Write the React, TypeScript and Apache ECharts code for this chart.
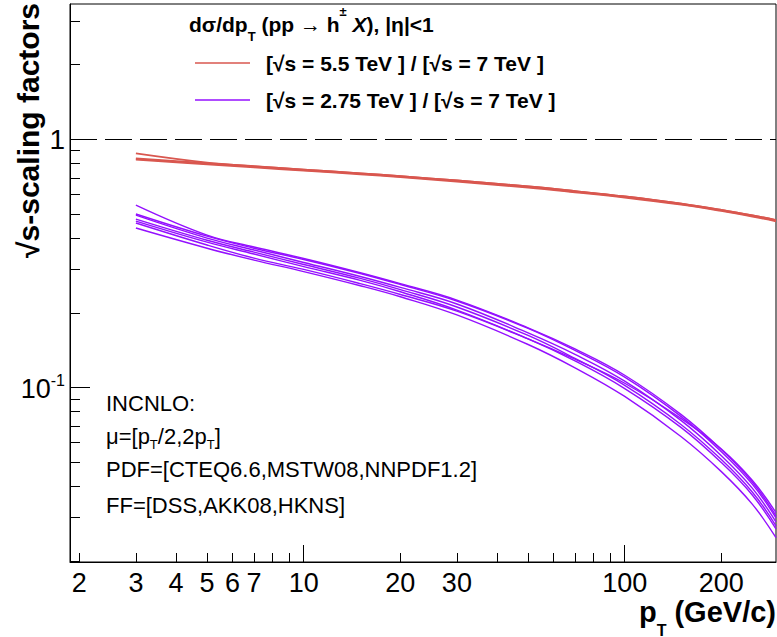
import React, { useEffect, useRef } from 'react';
import * as echarts from 'echarts';

const FONT = '"Liberation Sans", Arial, Helvetica, sans-serif';

// transverse momentum grid (GeV/c)
const pT = [3, 5, 7, 10, 15, 20, 30, 50, 70, 100, 150, 200, 250, 296];

// [sqrt(s)=5.5 TeV]/[sqrt(s)=7 TeV] ratios
const red1 = [0.878, 0.806, 0.780, 0.756, 0.730, 0.711, 0.683, 0.646, 0.619, 0.589, 0.551, 0.520, 0.494, 0.473];
const red2 = [0.838, 0.802, 0.779, 0.756, 0.730, 0.711, 0.683, 0.646, 0.619, 0.589, 0.551, 0.520, 0.494, 0.473];
const red3 = [0.833, 0.797, 0.775, 0.751, 0.726, 0.707, 0.679, 0.642, 0.615, 0.586, 0.548, 0.517, 0.491, 0.470];
const red4 = [0.828, 0.792, 0.770, 0.747, 0.722, 0.703, 0.675, 0.638, 0.611, 0.582, 0.545, 0.514, 0.488, 0.467];

// [sqrt(s)=2.75 TeV]/[sqrt(s)=7 TeV] ratios
const vio1 = [0.543, 0.411, 0.368, 0.331, 0.290, 0.262, 0.225, 0.174, 0.143, 0.112, 0.0777, 0.0562, 0.0415, 0.0304];
const vio2 = [0.500, 0.407, 0.364, 0.328, 0.288, 0.260, 0.223, 0.173, 0.141, 0.110, 0.0763, 0.0551, 0.0407, 0.0298];
const vio3 = [0.495, 0.400, 0.358, 0.319, 0.280, 0.253, 0.217, 0.166, 0.136, 0.106, 0.0735, 0.0531, 0.0392, 0.0287];
const vio4 = [0.477, 0.392, 0.351, 0.313, 0.275, 0.248, 0.211, 0.162, 0.131, 0.102, 0.0708, 0.0512, 0.0378, 0.0277];
const vio5 = [0.468, 0.385, 0.345, 0.307, 0.270, 0.243, 0.205, 0.157, 0.128, 0.099, 0.0689, 0.0498, 0.0368, 0.0269];
const vio6 = [0.460, 0.375, 0.332, 0.299, 0.262, 0.237, 0.203, 0.157, 0.130, 0.104, 0.0749, 0.0565, 0.0422, 0.0313];
const vio7 = [0.439, 0.364, 0.326, 0.293, 0.257, 0.232, 0.196, 0.149, 0.120, 0.092, 0.0633, 0.0458, 0.0338, 0.0248];

const xMajorTicks = [10, 100];
const xMinorTicks = [2, 3, 4, 5, 6, 7, 8, 9, 20, 30, 40, 50, 60, 70, 80, 90, 200];
const xTickLabels = [2, 3, 4, 5, 6, 7, 10, 20, 30, 100, 200];
const yMajorTicks = [0.1, 1];
const yMinorTicks = [0.02, 0.03, 0.04, 0.05, 0.06, 0.07, 0.08, 0.09, 0.2, 0.3, 0.4, 0.5, 0.6, 0.7, 0.8, 0.9, 2, 3];
const yTickLabels = [0.1, 1];

const RED = '#d9574f';
const VIOLET = '#9410ff';

const X_MIN = 1.87;
const X_MAX = 296;
const Y_MIN = 0.0198;
const Y_MAX = 3.51;

export default function App() {
  const ref = useRef<HTMLDivElement>(null);

  useEffect(() => {
    if (!ref.current) return;
    const chart = echarts.init(ref.current, undefined, { renderer: 'svg' });

    const mk = (vals: number[], color: string, width: number) => ({
      type: 'line',
      xAxisIndex: 0,
      yAxisIndex: 0,
      data: pT.map((p, i) => [p, vals[i]]),
      symbol: 'none',
      showSymbol: false,
      smooth: 0.4,
      silent: true,
      lineStyle: { color, width },
      z: 3,
    });

    const xBase = {
      type: 'log',
      logBase: 10,
      min: X_MIN,
      max: X_MAX,
      position: 'bottom',
      splitLine: { show: false },
      minorTick: { show: false },
      minorSplitLine: { show: false },
    };
    const yBase = {
      type: 'log',
      logBase: 10,
      min: Y_MIN,
      max: Y_MAX,
      position: 'left',
      splitLine: { show: false },
      minorTick: { show: false },
      minorSplitLine: { show: false },
    };

    const option: any = {
      animation: false,
      backgroundColor: '#fff',
      grid: {
        left: 70,
        right: 1,
        top: 4,
        bottom: 75,
        containLabel: false,
        outerBoundsMode: 'none',
        show: true,
        borderColor: '#000',
        borderWidth: 1,
      },
      xAxis: [
        {
          ...xBase,
          axisLine: { show: true, onZero: false, lineStyle: { color: '#000', width: 1 } },
          axisTick: { show: true, inside: true, length: 17, customValues: xMajorTicks, lineStyle: { color: '#000' } },
          axisLabel: {
            show: true,
            customValues: xTickLabels,
            margin: 7,
            fontSize: 27,
            fontFamily: FONT,
            color: '#000',
            formatter: (v: number) => String(Math.round(v)),
          },
        },
        {
          ...xBase,
          axisLine: { show: false, onZero: false },
          axisTick: { show: true, inside: true, length: 9, customValues: xMinorTicks, lineStyle: { color: '#000' } },
          axisLabel: { show: false },
        },
      ],
      yAxis: [
        {
          ...yBase,
          axisLine: { show: true, onZero: false, lineStyle: { color: '#000', width: 1 } },
          axisTick: { show: true, inside: true, length: 20, customValues: yMajorTicks, lineStyle: { color: '#000' } },
          axisLabel: {
            show: true,
            customValues: yTickLabels,
            margin: 5,
            fontSize: 28,
            fontFamily: FONT,
            color: '#000',
            formatter: (v: number) => (v > 0.5 ? '1' : '{b|10}{s|-1}'),
            rich: {
              b: { fontSize: 27, fontFamily: FONT, color: '#000', lineHeight: 28, padding: [10, 0, 0, 0], verticalAlign: 'bottom' },
              s: { fontSize: 16, fontFamily: FONT, color: '#000', lineHeight: 30, verticalAlign: 'top' },
            },
          },
        },
        {
          ...yBase,
          axisLine: { show: false, onZero: false },
          axisTick: { show: true, inside: true, length: 10, customValues: yMinorTicks, lineStyle: { color: '#000' } },
          axisLabel: { show: false },
        },
      ],
      series: [
        {
          type: 'line',
          xAxisIndex: 0,
          yAxisIndex: 0,
          data: [],
          silent: true,
          markLine: {
            silent: true,
            symbol: ['none', 'none'],
            label: { show: false },
            lineStyle: { color: '#000', width: 1, type: [27, 8] },
            data: [{ yAxis: 1 }],
          },
        },
        mk(red1, RED, 1.6),
        mk(red2, RED, 1.6),
        mk(red3, RED, 1.6),
        mk(red4, RED, 1.6),
        mk(vio1, VIOLET, 1.4),
        mk(vio2, VIOLET, 1.4),
        mk(vio3, VIOLET, 1.4),
        mk(vio4, VIOLET, 1.4),
        mk(vio5, VIOLET, 1.4),
        mk(vio6, VIOLET, 1.4),
        mk(vio7, VIOLET, 1.4),
      ],
      graphic: [
        {
          type: 'text',
          x: 28,
          y: 3,
          rotation: Math.PI / 2,
          style: {
            text: '√s-scaling factors',
            fill: '#000',
            fontSize: 30,
            fontWeight: 'bold',
            fontFamily: FONT,
            align: 'right',
            verticalAlign: 'middle',
          },
        },
        {
          type: 'text',
          x: 189,
          y: 24,
          style: {
            text: '{a|dσ/dp}{sub|T}{a| (pp → h}{sup|±}{i| X}{a|), |η|<1}',
            fill: '#000',
            fontSize: 21,
            fontWeight: 'bold',
            fontFamily: FONT,
            align: 'left',
            verticalAlign: 'middle',
            rich: {
              a: { fontSize: 21, fontWeight: 'bold', fontFamily: FONT, fill: '#000', lineHeight: 38 },
              i: { fontSize: 21, fontWeight: 'bold', fontStyle: 'italic', fontFamily: FONT, fill: '#000', lineHeight: 38 },
              sub: { fontSize: 13, fontWeight: 'bold', fontFamily: FONT, fill: '#000', lineHeight: 12, verticalAlign: 'bottom' },
              sup: { fontSize: 13, fontWeight: 'bold', fontFamily: FONT, fill: '#000', lineHeight: 16, verticalAlign: 'top' },
            },
          },
        },
        { type: 'line', shape: { x1: 195, y1: 63, x2: 250, y2: 63 }, style: { stroke: RED, lineWidth: 1.5 } },
        {
          type: 'text',
          x: 266,
          y: 63,
          style: {
            text: '[√s = 5.5 TeV ] / [√s = 7 TeV ]',
            fill: '#000',
            fontSize: 21,
            fontWeight: 'bold',
            fontFamily: FONT,
            align: 'left',
            verticalAlign: 'middle',
          },
        },
        { type: 'line', shape: { x1: 195, y1: 100, x2: 250, y2: 100 }, style: { stroke: VIOLET, lineWidth: 1.5 } },
        {
          type: 'text',
          x: 266,
          y: 100,
          style: {
            text: '[√s = 2.75 TeV ] / [√s = 7 TeV ]',
            fill: '#000',
            fontSize: 21,
            fontWeight: 'bold',
            fontFamily: FONT,
            align: 'left',
            verticalAlign: 'middle',
          },
        },
        {
          type: 'text',
          x: 106,
          y: 403,
          style: { text: 'INCNLO:', fill: '#000', fontSize: 22, fontFamily: FONT, align: 'left', verticalAlign: 'middle' },
        },
        {
          type: 'text',
          x: 106,
          y: 436,
          style: {
            text: '{a|μ=[p}{s|T}{a|/2,2p}{s|T}{a|]}',
            fill: '#000',
            fontSize: 22,
            fontFamily: FONT,
            align: 'left',
            verticalAlign: 'middle',
            rich: {
              a: { fontSize: 22, fontFamily: FONT, fill: '#000', lineHeight: 30 },
              s: { fontSize: 13, fontFamily: FONT, fill: '#000', lineHeight: 10, verticalAlign: 'bottom' },
            },
          },
        },
        {
          type: 'text',
          x: 106,
          y: 469,
          style: { text: 'PDF=[CTEQ6.6,MSTW08,NNPDF1.2]', fill: '#000', fontSize: 22, fontFamily: FONT, align: 'left', verticalAlign: 'middle' },
        },
        {
          type: 'text',
          x: 106,
          y: 505,
          style: { text: 'FF=[DSS,AKK08,HKNS]', fill: '#000', fontSize: 22, fontFamily: FONT, align: 'left', verticalAlign: 'middle' },
        },
        {
          type: 'text',
          x: 776,
          y: 612,
          style: {
            text: '{b|p}{sub|T}{b| (GeV/c)}',
            fill: '#000',
            fontSize: 29,
            fontWeight: 'bold',
            fontFamily: FONT,
            align: 'right',
            verticalAlign: 'middle',
            rich: {
              b: { fontSize: 29, fontWeight: 'bold', fontFamily: FONT, fill: '#000', lineHeight: 52 },
              sub: { fontSize: 16, fontWeight: 'bold', fontFamily: FONT, fill: '#000', lineHeight: 16, verticalAlign: 'bottom' },
            },
          },
        },
      ],
    };

    chart.setOption(option);
    return () => chart.dispose();
  }, []);

  return (
    <div
      ref={ref}
      style={{ position: 'fixed', left: 0, top: 0, width: 777, height: 637, background: '#fff' }}
    />
  );
}
